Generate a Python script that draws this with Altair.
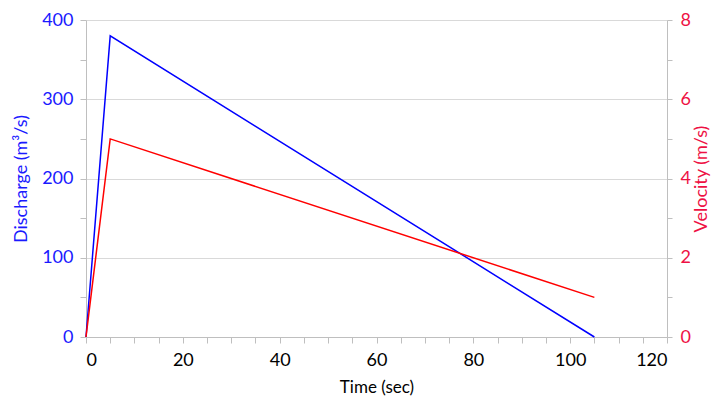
import altair as alt
import pandas as pd

time = [0, 5, 105]
discharge = [0, 380, 0]
velocity = [0, 5, 1]

x_ticks = list(range(0, 121, 5))
q_ticks = list(range(0, 401, 50))
v_ticks = list(range(0, 9, 1))

df = pd.DataFrame({"time": time, "discharge": discharge, "velocity": velocity})

FONT = "Lato"
GRAY = "#bfbfbf"

x = alt.X(
    "time:Q",
    scale=alt.Scale(domain=[0, 120], nice=False),
    axis=alt.Axis(
        title="Time (sec)",
        values=x_ticks,
        labelExpr="datum.value % 20 == 0 ? datum.label : ''",
        grid=False,
        domainColor=GRAY,
        tickColor=GRAY,
        tickSize=6,
        labelPadding=8,
        labelFontSize=18,
        labelColor="#000000",
        titleFontSize=17,
        titleFontWeight="normal",
        titleColor="#000000",
        titlePadding=10,
    ),
)

blue = alt.Chart(df).mark_line(color="#0000ff", strokeWidth=1.5).encode(
    x=x,
    y=alt.Y(
        "discharge:Q",
        scale=alt.Scale(domain=[0, 400], nice=False),
        axis=alt.Axis(
            title="Discharge (m³/s)",
            values=q_ticks,
            labelExpr="datum.value % 100 == 0 ? datum.label : ''",
            grid=True,
            gridColor="#d9d9d9",
            gridOpacity=alt.condition("datum.value % 100 == 0", alt.value(1), alt.value(0)),
            domainColor=GRAY,
            tickColor=GRAY,
            tickSize=6,
            labelPadding=7,
            labelFontSize=18,
            labelColor="#1a1aff",
            titleFontSize=18,
            titleFontWeight="normal",
            titleColor="#1a1aff",
            titlePadding=11,
        ),
    ),
)

red = alt.Chart(df).mark_line(color="#ff0000", strokeWidth=1.5).encode(
    x=x,
    y=alt.Y(
        "velocity:Q",
        scale=alt.Scale(domain=[0, 8], nice=False),
        axis=alt.Axis(
            orient="right",
            title="Velocity (m/s)",
            values=v_ticks,
            labelExpr="datum.value % 2 == 0 ? datum.label : ''",
            grid=False,
            domainColor=GRAY,
            tickColor=GRAY,
            tickSize=5,
            labelPadding=8,
            labelFontSize=18,
            labelColor="#ee1144",
            titleFontSize=18,
            titleFontWeight="normal",
            titleColor="#ee1144",
            titleAngle=270,
            titlePadding=20,
        ),
    ),
)

chart = (
    alt.layer(blue, red)
    .resolve_scale(y="independent")
    .properties(
        width=581,
        height=317,
        autosize=alt.AutoSizeParams(type="none"),
        padding={"left": 78, "top": 12, "right": 44, "bottom": 60},
    )
    .configure(font=FONT)
    .configure_view(stroke=None)
)

chart.save("out.html", embed_options={"renderer": "svg", "actions": False})
